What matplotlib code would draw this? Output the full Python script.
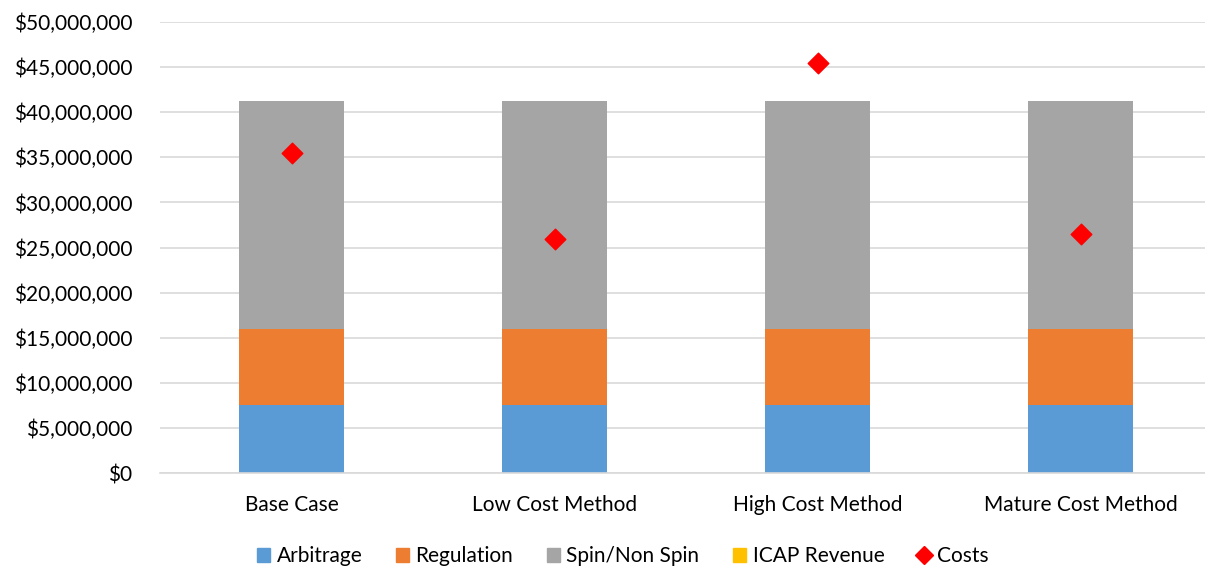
import matplotlib.pyplot as plt
from matplotlib.ticker import FuncFormatter
from matplotlib.lines import Line2D
from matplotlib.patches import Patch
import numpy as np

scenarios = ['Base Case', 'Low Cost Method', 'High Cost Method', 'Mature Cost Method']
arbitrage = [7.55e6, 7.55e6, 7.55e6, 7.55e6]
regulation = [8.4e6, 8.4e6, 8.4e6, 8.4e6]
spin = [25.25e6, 25.25e6, 25.25e6, 25.25e6]
icap = [0.08e6, 0.08e6, 0.08e6, 0.08e6]
costs = [35.5e6, 25.95e6, 45.45e6, 26.5e6]

colors = ['#5B9BD5', '#ED7D31', '#A5A5A5', '#FFC000']
names = ['Arbitrage', 'Regulation', 'Spin/Non Spin', 'ICAP Revenue']

plt.rcParams['font.family'] = ['Lato', 'DejaVu Sans']

fig = plt.figure(figsize=(12.05, 5.68), dpi=100)
ax = fig.add_axes([160 / 1205, 95 / 568, 1052 / 1205, 451 / 568])

x = np.arange(len(scenarios))
bottom = np.zeros(len(scenarios))
for vals, c in zip([arbitrage, regulation, spin, icap], colors):
    ax.bar(x, vals, 0.4, bottom=bottom, color=c, zorder=2)
    bottom += np.array(vals)

ax.scatter(x, costs, marker='D', s=110, color='#FF0000', zorder=3)

ax.set_xlim(-0.5, 3.5)
ax.set_ylim(0, 50e6)
ax.set_yticks(np.arange(0, 50e6 + 1, 5e6))
ax.yaxis.set_major_formatter(FuncFormatter(lambda v, p: '${:,.0f}'.format(v)))
ax.set_xticks(x)
ax.set_xticklabels(scenarios)
ax.tick_params(axis='both', length=0, labelsize=15, colors='#000000')
ax.tick_params(axis='x', pad=15.5)
ax.tick_params(axis='y', pad=20)
ax.grid(axis='y', color='#D9D9D9', linewidth=1.2, zorder=0)
for s in ['top', 'right', 'left']:
    ax.spines[s].set_visible(False)
ax.spines['bottom'].set_color('#D9D9D9')
ax.spines['bottom'].set_linewidth(1.2)

handles = [Patch(color=c, label=n) for c, n in zip(colors, names)]
handles.append(Line2D([], [], marker='D', color='#FF0000', linestyle='none',
                      markersize=9, label='Costs'))
fig.legend(handles=handles, loc='center', bbox_to_anchor=(623 / 1205, 1 - 556 / 568),
           ncol=5, frameon=False, fontsize=15, handlelength=0.65, handleheight=0.65,
           handletextpad=0.3, columnspacing=1.6)

fig.savefig('out.png', dpi=100)
